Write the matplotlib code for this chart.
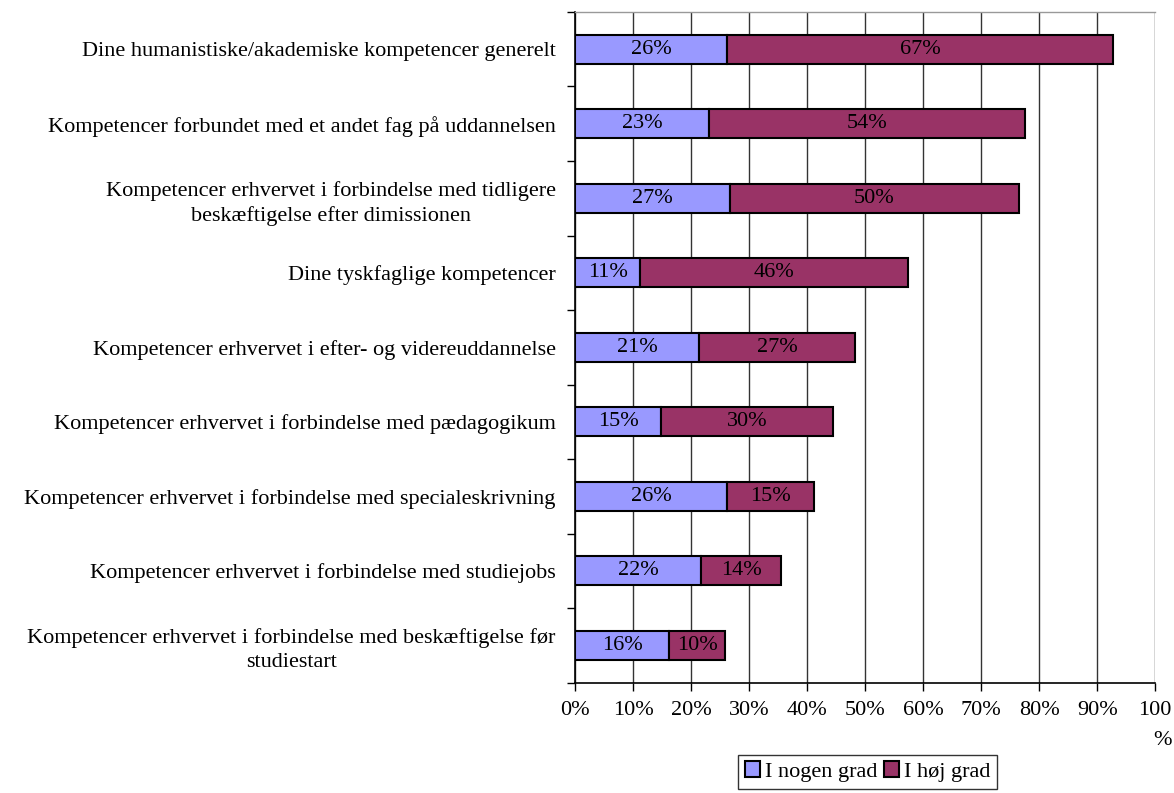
import numpy as np
import matplotlib
matplotlib.use("Agg")
import matplotlib.pyplot as plt
from matplotlib.patches import Patch

plt.rcParams['font.family'] = ['Liberation Serif', 'DejaVu Serif']

categories = [
    "Dine humanistiske/akademiske kompetencer generelt",
    "Kompetencer forbundet med et andet fag på uddannelsen",
    "Kompetencer erhvervet i forbindelse med tidligere\nbeskæftigelse efter dimissionen",
    "Dine tyskfaglige kompetencer",
    "Kompetencer erhvervet i efter- og videreuddannelse",
    "Kompetencer erhvervet i forbindelse med pædagogikum",
    "Kompetencer erhvervet i forbindelse med specialeskrivning",
    "Kompetencer erhvervet i forbindelse med studiejobs",
    "Kompetencer erhvervet i forbindelse med beskæftigelse før\nstudiestart",
]
nogen = [26.2, 23.1, 26.7, 11.2, 21.4, 14.8, 26.1, 21.7, 16.2]
hoej = [66.6, 54.5, 49.8, 46.1, 26.9, 29.7, 15.0, 13.8, 9.7]
series_names = ["I nogen grad", "I høj grad"]
xticks = [0, 10, 20, 30, 40, 50, 60, 70, 80, 90, 100]
xticklabels = ["0%", "10%", "20%", "30%", "40%", "50%", "60%", "70%", "80%", "90%", "100\n%"]

c_blue = "#9999FF"
c_red = "#993366"
fs = 16

fig = plt.figure(figsize=(11.74, 7.93), dpi=100)
ax = fig.add_axes([0.49, 0.139, 0.494, 0.846])

y = np.arange(len(categories))
h = 0.39
ax.barh(y, nogen, height=h, color=c_blue, edgecolor="black", linewidth=1.5, zorder=3)
ax.barh(y, hoej, left=nogen, height=h, color=c_red, edgecolor="black", linewidth=1.5, zorder=3)

for i in range(len(categories)):
    ax.text(nogen[i] / 2, y[i], f"{round(nogen[i]):.0f}%", ha="center", va="center",
            fontsize=fs, zorder=4)
    ax.text(nogen[i] + hoej[i] / 2, y[i], f"{round(hoej[i]):.0f}%", ha="center", va="center",
            fontsize=fs, zorder=4)

ax.set_ylim(len(categories) - 0.5, -0.5)
ax.set_xlim(0, 100)

# category labels (no ticks at centers), tick marks at boundaries
ax.set_yticks(y)
ax.set_yticklabels(categories, fontsize=fs, multialignment="center", linespacing=1.35)
ax.tick_params(axis="y", length=0, pad=14)
ax.set_yticks(np.arange(-0.5, len(categories), 1.0), minor=True)
ax.tick_params(axis="y", which="minor", length=6, width=1, direction="out")

ax.set_xticks(xticks)
ax.set_xticklabels(xticklabels, fontsize=fs, linespacing=1.8)
ax.get_xticklabels()[-1].set_multialignment("right")
ax.tick_params(axis="x", length=6, width=1, direction="out", pad=7)

ax.grid(axis="x", color="#333333", linewidth=1.0, zorder=0)
ax.spines["right"].set_visible(False)
ax.spines["top"].set_color("#999999")
ax.spines["top"].set_linewidth(1.0)
ax.spines["left"].set_linewidth(1.2)
ax.spines["bottom"].set_linewidth(1.2)

handles = [Patch(facecolor=c_blue, edgecolor="black", linewidth=1.5),
           Patch(facecolor=c_red, edgecolor="black", linewidth=1.5)]
fig.legend(handles, series_names, loc="center", bbox_to_anchor=(0.739, 0.027),
           ncol=2, frameon=True, fancybox=False, edgecolor="black", fontsize=fs,
           handlelength=0.7, handleheight=0.7, handletextpad=0.2, columnspacing=0.3,
           borderpad=0.3, borderaxespad=0)

fig.savefig("out.png", dpi=100)
